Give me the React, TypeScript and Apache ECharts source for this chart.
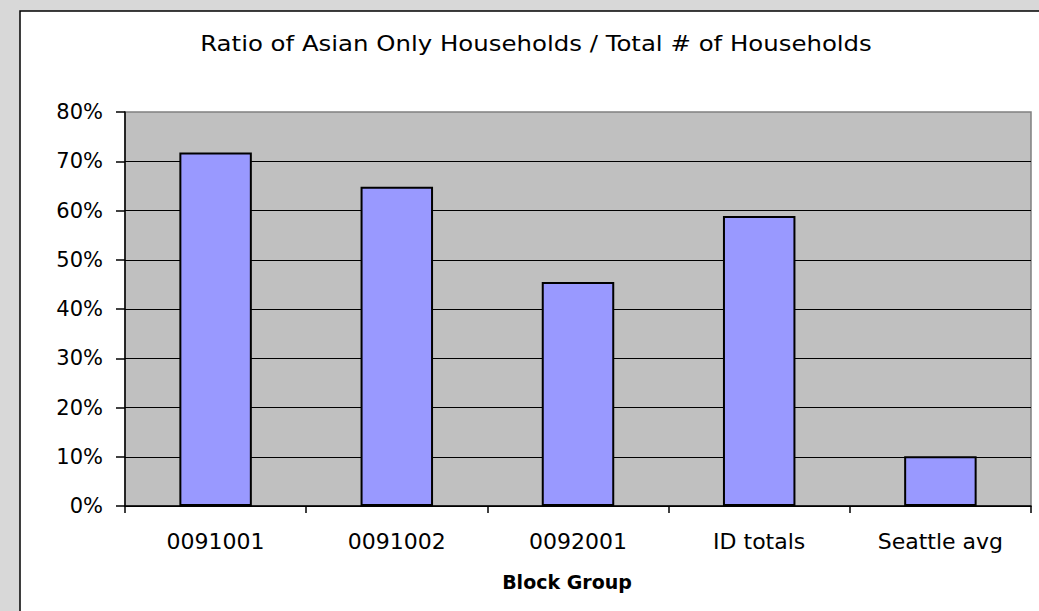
import React, { useEffect, useRef } from 'react';
import * as echarts from 'echarts';

const titleText = 'Ratio of Asian Only Households / Total # of Households';
const axisName = 'Block Group';
const categories = ['0091001', '0091002', '0092001', 'ID totals', 'Seattle avg'];
const shareValues = [71.8, 64.8, 45.5, 58.9, 10.1];
const yMin = 0;
const yMax = 80;
const yStep = 10;

export default function App() {
  const ref = useRef<HTMLDivElement>(null);
  useEffect(() => {
    if (!ref.current) return;
    const chart = echarts.init(ref.current, undefined, { renderer: 'svg' });
    chart.setOption({
      animation: false,
      backgroundColor: '#d8d8d8',
      graphic: [
        {
          type: 'rect',
          z: -10,
          silent: true,
          shape: { x: 20, y: 11, width: 1040, height: 620 },
          style: { fill: '#ffffff', stroke: '#000000', lineWidth: 1.5 },
        },
        {
          type: 'text',
          x: 536,
          y: 43,
          scaleX: 1.11,
          style: {
            text: titleText,
            fill: '#000000',
            font: '22px "DejaVu Sans"',
            align: 'center',
            verticalAlign: 'middle',
          },
        },
      ],
      grid: {
        left: 125,
        right: 8,
        top: 112,
        bottom: 105,
        show: true,
        backgroundColor: '#c0c0c0',
        borderColor: '#808080',
        borderWidth: 1.5,
        outerBoundsMode: 'none',
      },
      xAxis: {
        type: 'category',
        data: categories,
        name: axisName,
        nameLocation: 'middle',
        nameGap: 66,
        nameTextStyle: {
          fontFamily: 'DejaVu Sans',
          fontWeight: 'bold',
          fontSize: 19,
          color: '#000',
          padding: [0, 22, 0, 0],
        },
        axisLine: { show: true, lineStyle: { color: '#000', width: 1.5 } },
        axisTick: { show: true, length: 7, lineStyle: { color: '#000', width: 1.5 } },
        axisLabel: {
          margin: 24,
          fontFamily: 'DejaVu Sans',
          fontSize: 22,
          color: '#000',
        },
      },
      yAxis: {
        type: 'value',
        min: yMin,
        max: yMax,
        interval: yStep,
        axisLine: { show: true, lineStyle: { color: '#000', width: 1.5 } },
        axisTick: { show: true, length: 9, lineStyle: { color: '#000', width: 1.5 } },
        axisLabel: {
          formatter: '{value}%',
          margin: 22,
          fontFamily: 'DejaVu Sans',
          fontSize: 21,
          color: '#000',
        },
        splitLine: { show: true, showMaxLine: false, lineStyle: { color: '#000', width: 1 } },
      },
      series: [
        {
          type: 'bar',
          data: shareValues,
          barWidth: '40%',
          itemStyle: { color: '#9999ff', borderColor: '#000', borderWidth: 2 },
        },
      ],
    });
    return () => chart.dispose();
  }, []);
  return (
    <div
      ref={ref}
      style={{ position: 'fixed', left: 0, top: 0, width: 1039, height: 611 }}
    />
  );
}
